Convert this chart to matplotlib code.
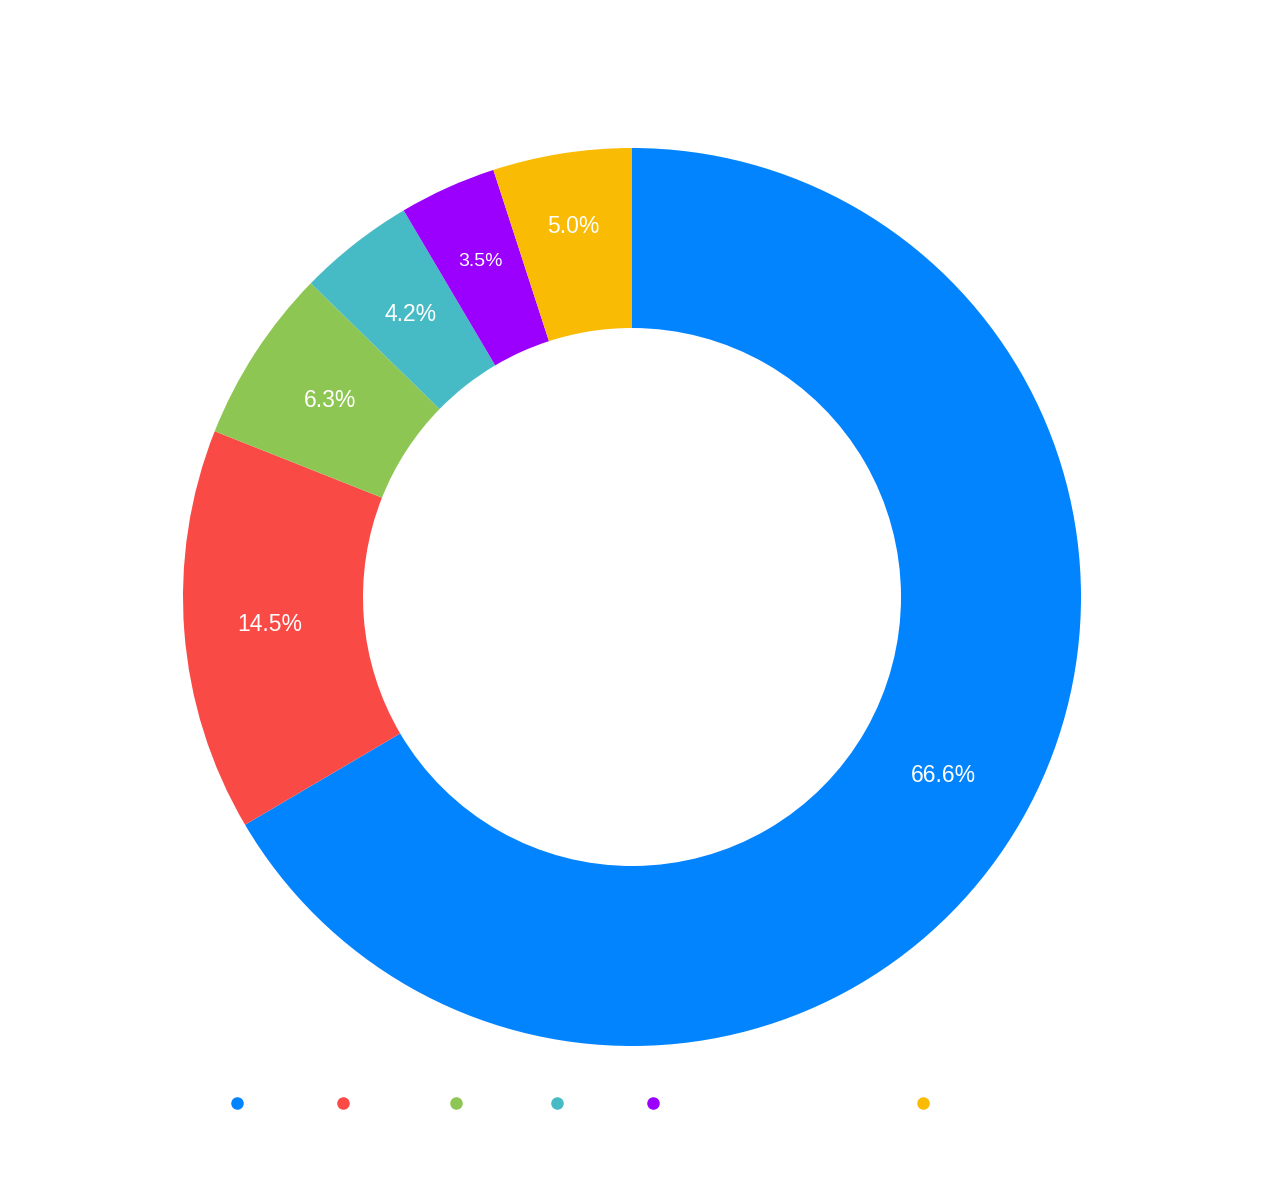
import numpy as np
import matplotlib.pyplot as plt
from matplotlib.lines import Line2D

values = [66.6, 14.5, 6.3, 4.2, 3.5, 5.0]
labels = ["66.6%", "14.5%", "6.3%", "4.2%", "3.5%", "5.0%"]
colors = ["#0384FF", "#F94A46", "#8DC653", "#47BBC5", "#9B00FF", "#FABB04"]
label_r = [359, 363, 360, 359, 368, 375]   # label distance from centre, px
label_size = [16.5, 16.5, 16.5, 16.5, 14, 16.5]
legend_x = [237, 343, 456, 557, 653, 923]

W, H = 1264, 1180
fig = plt.figure(figsize=(W / 100, H / 100), dpi=100)
cx, cy, r = 632, 597, 449
ax = fig.add_axes([(cx - r) / W, (H - cy - r) / H, 2 * r / W, 2 * r / H])

wedges, _ = ax.pie(values, colors=colors, startangle=90, counterclock=False,
                   radius=1, wedgeprops=dict(width=1 - 269 / 449, linewidth=0))

for w, lab, lr, fs in zip(wedges, labels, label_r, label_size):
    ang = np.deg2rad((w.theta1 + w.theta2) / 2)
    d = lr / r
    ax.text(d * np.cos(ang), d * np.sin(ang), lab, color="white",
            ha="center", va="center", fontsize=fs, family="Liberation Sans")

ax.set_xlim(-1, 1)
ax.set_ylim(-1, 1)
ax.set_aspect("equal")
ax.axis("off")

for x, c in zip(legend_x, colors):
    fig.add_artist(Line2D([x / W], [1 - 1103 / H], marker="o", markersize=8,
                          color=c, linestyle="none", transform=fig.transFigure))

fig.savefig("out.png", dpi=100)
